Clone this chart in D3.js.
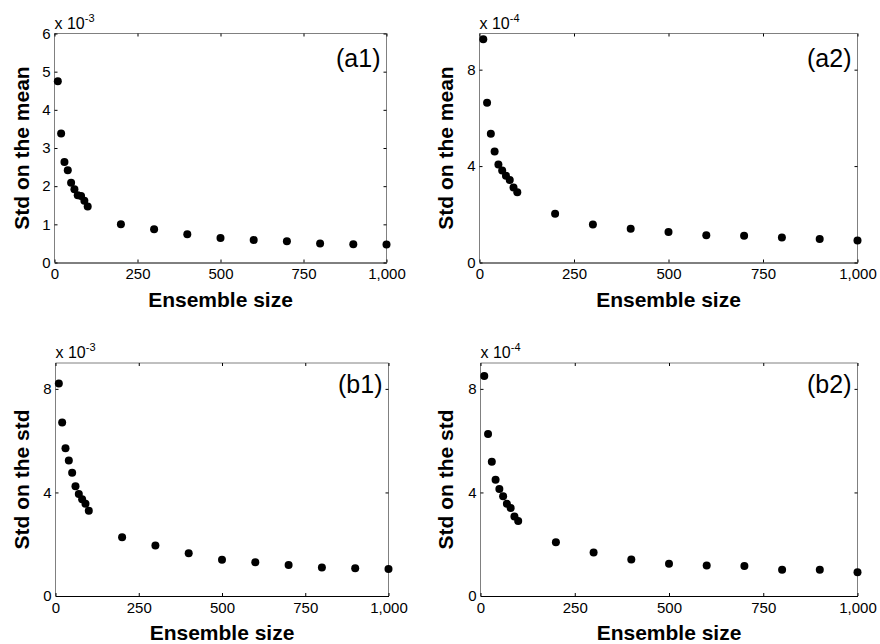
<!DOCTYPE html>
<html>
<head>
<meta charset="utf-8">
<script src="https://cdn.jsdelivr.net/npm/d3@7"></script>
<style>
  html, body { margin: 0; padding: 0; background: #fff; }
  svg { display: block; font-family: Arial, "Liberation Sans", Helvetica, sans-serif; }
</style>
</head>
<body>
<svg id="chart" width="880" height="644"></svg>
<script>
// ---- data ----
const ensembleSizes = [10, 20, 30, 40, 50, 60, 70, 80, 90, 100, 200, 300, 400, 500, 600, 700, 800, 900, 1000];
// values in units of the panel multiplier (x 10^-3 or x 10^-4)
const stdMeanA1 = [4.75, 3.38, 2.63, 2.42, 2.09, 1.92, 1.76, 1.74, 1.62, 1.47, 1.00, 0.87, 0.74, 0.64, 0.59, 0.56, 0.50, 0.48, 0.47];
const stdMeanA2 = [9.26, 6.63, 5.34, 4.60, 4.07, 3.82, 3.60, 3.42, 3.11, 2.91, 2.02, 1.58, 1.40, 1.27, 1.13, 1.11, 1.04, 0.97, 0.91];
const stdStdB1  = [8.21, 6.70, 5.71, 5.23, 4.76, 4.24, 3.94, 3.74, 3.56, 3.29, 2.27, 1.95, 1.65, 1.40, 1.30, 1.20, 1.10, 1.07, 1.04];
const stdStdB2  = [8.50, 6.26, 5.19, 4.49, 4.13, 3.85, 3.56, 3.40, 3.07, 2.90, 2.08, 1.68, 1.41, 1.25, 1.18, 1.16, 1.01, 1.01, 0.92];

const panelNames = ["(a1)", "(a2)", "(b1)", "(b2)"];
const yLabels = ["Std on the mean", "Std on the mean", "Std on the std", "Std on the std"];
const exponents = ["-3", "-4", "-3", "-4"];
const yMaxes = [6, 9.5, 9, 9];
const yTicksA1 = [0, 1, 2, 3, 4, 5, 6];
const yTicksOther = [0, 4, 8];
const xTicks = [0, 250, 500, 750, 1000];
const xLabel = "Ensemble size";

// ---- layout ----
const panels = [
  { vals: stdMeanA1, x: 54.5, y: 33.5, w: 332, h: 229, yTicks: yTicksA1, ylabX: 22 },
  { vals: stdMeanA2, x: 479.5, y: 33.5, w: 378, h: 229, yTicks: yTicksOther, ylabX: 446 },
  { vals: stdStdB1,  x: 55.5, y: 363, w: 333, h: 233, yTicks: yTicksOther, ylabX: 22 },
  { vals: stdStdB2,  x: 480.5, y: 363, w: 377, h: 233, yTicks: yTicksOther, ylabX: 446 }
];

const svg = d3.select("#chart");
const fmtX = d3.format(",");

panels.forEach((p, i) => {
  const g = svg.append("g").attr("transform", `translate(${p.x},${p.y})`);
  const x = d3.scaleLinear().domain([0, 1000]).range([0, p.w]);
  const y = d3.scaleLinear().domain([0, yMaxes[i]]).range([p.h, 0]);

  // box (left/top/right gray, bottom black)
  g.append("line").attr("x1", 0).attr("x2", p.w).attr("y1", 0).attr("y2", 0).attr("stroke", "#808080");
  g.append("line").attr("x1", 0).attr("x2", 0).attr("y1", 0).attr("y2", p.h).attr("stroke", "#808080");
  g.append("line").attr("x1", p.w).attr("x2", p.w).attr("y1", 0).attr("y2", p.h).attr("stroke", "#808080");

  // bottom axis
  const xb = g.append("g").attr("transform", `translate(0,${p.h})`)
    .call(d3.axisBottom(x).tickValues(xTicks).tickSizeInner(-3).tickSizeOuter(0).tickPadding(6).tickFormat(fmtX));
  xb.select(".domain").attr("stroke", "#000");
  xb.selectAll(".tick line").attr("stroke", "#000");
  xb.selectAll("text").attr("font-size", 15).attr("fill", "#000").attr("font-family", "Arial, 'Liberation Sans', sans-serif");

  // top ticks
  const xt = g.append("g").call(d3.axisTop(x).tickValues(xTicks).tickSizeInner(-3).tickSizeOuter(0).tickFormat(""));
  xt.select(".domain").remove();
  xt.selectAll(".tick line").attr("stroke", "#000");

  // left axis
  const yl = g.append("g")
    .call(d3.axisLeft(y).tickValues(p.yTicks).tickSizeInner(-3).tickSizeOuter(0).tickPadding(4).tickFormat(d3.format("d")));
  yl.select(".domain").remove();
  yl.selectAll(".tick line").attr("stroke", "#000");
  yl.selectAll("text").attr("font-size", 15).attr("fill", "#000").attr("font-family", "Arial, 'Liberation Sans', sans-serif");

  // right ticks
  const yr = g.append("g").attr("transform", `translate(${p.w},0)`)
    .call(d3.axisRight(y).tickValues(p.yTicks).tickSizeInner(-3).tickSizeOuter(0).tickFormat(""));
  yr.select(".domain").remove();
  yr.selectAll(".tick line").attr("stroke", "#000");

  // points
  g.selectAll("circle.pt").data(p.vals).join("circle")
    .attr("class", "pt")
    .attr("cx", (d, j) => x(ensembleSizes[j]))
    .attr("cy", d => y(d))
    .attr("r", 4)
    .attr("fill", "#000");

  // panel label
  g.append("text").attr("x", p.w - 6).attr("y", i < 2 ? 33 : 30)
    .attr("text-anchor", "end").attr("font-size", 25).attr("fill", "#000")
    .text(panelNames[i]);

  // multiplier
  const m = g.append("text").attr("x", 0).attr("y", -5).attr("font-size", 16).attr("fill", "#000");
  m.append("tspan").text("x 10");
  m.append("tspan").attr("dy", -7).attr("font-size", 11).text(exponents[i]);

  // x label
  g.append("text").attr("x", p.w / 2).attr("y", p.h + 44)
    .attr("text-anchor", "middle").attr("font-size", 21).attr("font-weight", "bold").attr("fill", "#000")
    .text(xLabel);

  // y label
  svg.append("text")
    .attr("transform", `translate(${p.ylabX},${p.y + p.h / 2}) rotate(-90)`)
    .attr("text-anchor", "middle").attr("dy", "0.35em")
    .attr("font-size", 21).attr("font-weight", "bold").attr("fill", "#000")
    .text(yLabels[i]);
});
</script>
</body>
</html>
